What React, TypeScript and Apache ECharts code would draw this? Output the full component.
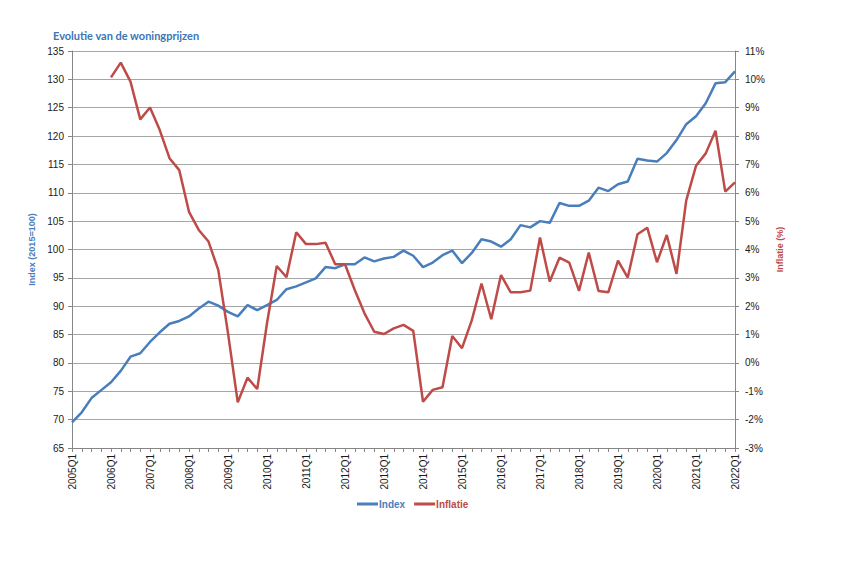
import React, { useEffect, useRef } from "react";
import * as echarts from "echarts";

const years = [2005, 2006, 2007, 2008, 2009, 2010, 2011, 2012, 2013, 2014, 2015, 2016, 2017, 2018, 2019, 2020, 2021, 2022];
const quarters = ["Q1", "Q2", "Q3", "Q4"];
const categories: string[] = [];
years.forEach((y) => quarters.forEach((q) => { if (!(y === 2022 && q !== "Q1")) categories.push(`${y}${q}`); }));

const indexValues = [
  69.5, 71.3, 73.8, 75.2, 76.6, 78.6, 81.1, 81.7, 83.7, 85.4,
  86.9, 87.4, 88.2, 89.6, 90.8, 90.1, 89.0, 88.2, 90.2, 89.3,
  90.2, 91.1, 93.0, 93.5, 94.2, 94.9, 96.9, 96.7, 97.4, 97.4,
  98.6, 97.9, 98.4, 98.7, 99.8, 98.9, 96.9, 97.7, 99.0, 99.8,
  97.6, 99.4, 101.8, 101.4, 100.5, 101.8, 104.3, 103.9, 105.0, 104.7,
  108.2, 107.7, 107.7, 108.6, 110.9, 110.3, 111.5, 112.0, 116.0, 115.7,
  115.5, 117.0, 119.3, 122.1, 123.5, 125.8, 129.3, 129.5, 131.4,
];

const inflationValues: (number | null)[] = [
  null, null, null, null,
  10.07, 10.59, 9.92, 8.59, 9.01, 8.21, 7.22, 6.80, 5.33, 4.69,
  4.28, 3.28, 1.05, -1.39, -0.52, -0.92, 1.40, 3.42, 3.02, 4.61,
  4.19, 4.19, 4.24, 3.48, 3.48, 2.57, 1.75, 1.10, 1.02, 1.22,
  1.34, 1.13, -1.37, -0.95, -0.86, 0.95, 0.52, 1.5, 2.80, 1.54,
  3.10, 2.49, 2.49, 2.55, 4.42, 2.87, 3.71, 3.54, 2.54, 3.89,
  2.54, 2.49, 3.61, 3.01, 4.54, 4.77, 3.55, 4.51, 3.14, 5.73,
  6.95, 7.39, 8.19, 6.04, 6.37,
];

const BLUE = "#4A7EBB";
const RED = "#BE4B48";
const FONT = "Liberation Sans";

export default function App() {
  const ref = useRef<HTMLDivElement>(null);
  useEffect(() => {
    document.body.style.margin = "0";
    if (!ref.current) return;
    const chart = echarts.init(ref.current, null, { renderer: "svg" });
    const gridColor = "#A6A6A6";
    const axisLine = { show: true, onZero: false, lineStyle: { color: "#868686", width: 1 } };
    chart.setOption({
      animation: false,
      backgroundColor: "#ffffff",
      title: {
        text: "Evolutie van de woningprijzen",
        left: 48,
        top: 25,
        textStyle: { fontFamily: "Lato", fontWeight: "bold", fontSize: 11, color: "#3B76B5" },
      },
      legend: {
        bottom: 52,
        left: 352,
        itemWidth: 21,
        itemHeight: 3,
        itemGap: 9,
        icon: "rect",
        data: [
          { name: "Index", textStyle: { color: BLUE } },
          { name: "Inflatie", textStyle: { color: RED } },
        ],
        textStyle: { fontFamily: FONT, fontSize: 10, fontWeight: "bold", padding: [0, 0, 0, -4] },
      },
      grid: { left: 72, right: 106, top: 51, bottom: 118, containLabel: false },
      xAxis: {
        type: "category",
        data: categories,
        boundaryGap: false,
        axisLine,
        axisTick: { show: true, interval: 0, length: 4, lineStyle: { color: "#868686" } },
        axisLabel: {
          interval: 3,
          rotate: 90,
          margin: 6,
          fontFamily: FONT,
          fontSize: 10,
          color: "#1a1a1a",
        },
        splitLine: { show: false },
      },
      yAxis: [
        {
          type: "value",
          min: 65,
          max: 135,
          interval: 5,
          name: "Index (2015=100)",
          nameLocation: "middle",
          nameGap: 32,
          nameTextStyle: { fontFamily: FONT, fontSize: 9, fontWeight: "bold", color: BLUE },
          axisLine,
          axisTick: { show: true, length: 4, lineStyle: { color: "#868686" } },
          axisLabel: { fontFamily: FONT, fontSize: 10, color: "#1a1a1a", margin: 8 },
          splitLine: { show: true, lineStyle: { color: gridColor, width: 1 } },
        },
        {
          type: "value",
          min: -3,
          max: 11,
          interval: 1,
          position: "right",
          name: "Inflatie (%)",
          nameLocation: "middle",
          nameGap: 38,
          nameRotate: 90,
          nameTextStyle: { fontFamily: FONT, fontSize: 9, fontWeight: "bold", color: RED },
          axisLine,
          axisTick: { show: true, length: 4, lineStyle: { color: "#868686" } },
          axisLabel: { fontFamily: FONT, fontSize: 10, color: "#1a1a1a", margin: 10, formatter: "{value}%" },
          splitLine: { show: false },
        },
      ],
      series: [
        {
          name: "Index",
          type: "line",
          yAxisIndex: 0,
          data: indexValues,
          showSymbol: false,
          symbol: "none",
          lineStyle: { color: BLUE, width: 2.5 },
          itemStyle: { color: BLUE },
        },
        {
          name: "Inflatie",
          type: "line",
          yAxisIndex: 1,
          data: inflationValues,
          showSymbol: false,
          symbol: "none",
          lineStyle: { color: RED, width: 2.5 },
          itemStyle: { color: RED },
        },
      ],
    });
    return () => chart.dispose();
  }, []);
  return <div ref={ref} style={{ width: 841, height: 566 }} />;
}
